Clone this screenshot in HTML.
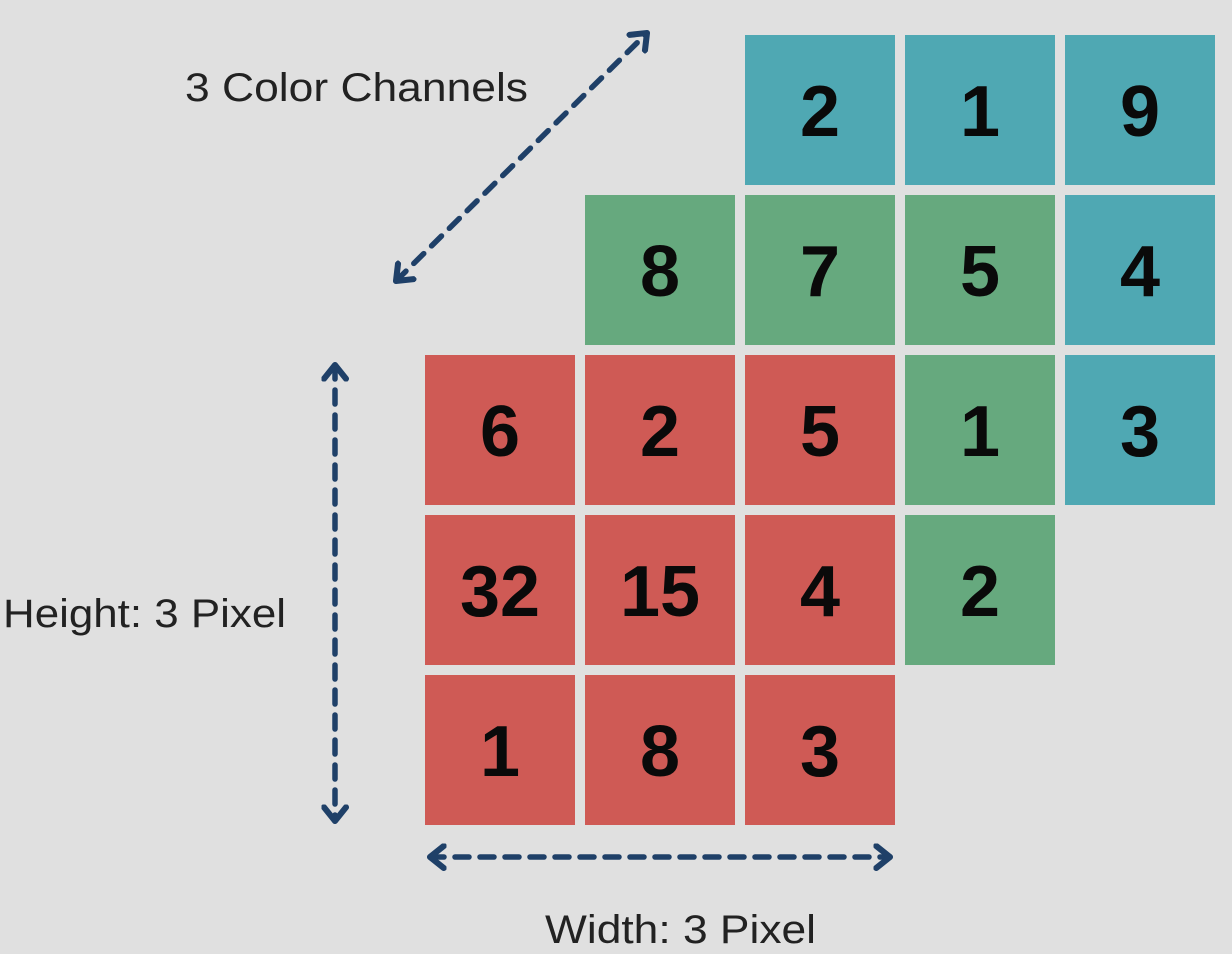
<!DOCTYPE html>
<html><head><meta charset="utf-8"><style>
html,body{margin:0;padding:0;background:#e0e0e0;}
svg{display:block}
</style></head><body>
<svg id="chart" width="1232" height="954" viewBox="0 0 1232 954" xmlns="http://www.w3.org/2000/svg">
<defs>
<marker id="ah" viewBox="0 0 10 10" refX="6" refY="5" markerWidth="5" markerHeight="5" orient="auto-start-reverse">
<path d="M1,1 L6,5 L1,9" fill="none" stroke="#1f4068" stroke-width="2.2" stroke-linecap="round" stroke-linejoin="round"/>
</marker>
</defs>
<rect x="0" y="0" width="1232" height="954" fill="#e0e0e0"/>
<g id="cells"></g>
<line x1="396" y1="281" x2="647" y2="33" stroke="#1f4068" stroke-width="5.5" stroke-dasharray="14 11" stroke-linecap="round" marker-start="url(#ah)" marker-end="url(#ah)"/>
<line x1="335" y1="365" x2="335" y2="821" stroke="#1f4068" stroke-width="5.5" stroke-dasharray="14 11" stroke-linecap="round" marker-start="url(#ah)" marker-end="url(#ah)"/>
<line x1="430" y1="857" x2="890" y2="857" stroke="#1f4068" stroke-width="5.5" stroke-dasharray="14 11" stroke-linecap="round" marker-start="url(#ah)" marker-end="url(#ah)"/>
<text x="185" y="101" font-family="Liberation Sans, sans-serif" font-size="40" fill="#222" textLength="343" lengthAdjust="spacingAndGlyphs">3 Color Channels</text>
<text x="3" y="627" font-family="Liberation Sans, sans-serif" font-size="40" fill="#222" textLength="283" lengthAdjust="spacingAndGlyphs">Height: 3 Pixel</text>
<text x="545" y="943" font-family="Liberation Sans, sans-serif" font-size="40" fill="#222" textLength="271" lengthAdjust="spacingAndGlyphs">Width: 3 Pixel</text>
</svg>
<script>
const blueValues = [[2,1,9],[7,5,4],[5,1,3]];
const greenValues = [[8,7,5],[2,5,1],[15,4,2]];
const redValues = [[6,2,5],[32,15,4],[1,8,3]];
const channels = [
  {name:'blue', vals: blueValues, color:'#4fa8b3', off:2},
  {name:'green', vals: greenValues, color:'#66a97e', off:1},
  {name:'red', vals: redValues, color:'#cf5a55', off:0}
];
const g = document.getElementById('cells');
const NS = 'http://www.w3.org/2000/svg';
const x0 = 425, y0 = 355, step = 160, size = 150;
channels.forEach(ch => {
  ch.vals.forEach((row, r) => {
    row.forEach((v, c) => {
      const x = x0 + (c + ch.off) * step;
      const y = y0 + (r - ch.off) * step;
      const rect = document.createElementNS(NS, 'rect');
      
      
      rect.setAttribute('x', x); rect.setAttribute('y', y);
      rect.setAttribute('width', size); rect.setAttribute('height', size);
      rect.setAttribute('fill', ch.color);
      g.appendChild(rect);
      const t = document.createElementNS(NS, 'text');
      
      
      t.setAttribute('x', x + size / 2); t.setAttribute('y', y + size / 2 + 26);
      t.setAttribute('text-anchor', 'middle');
      t.setAttribute('font-family', 'Liberation Sans, sans-serif');
      t.setAttribute('font-weight', 'bold');
      t.setAttribute('font-size', '72');
      t.setAttribute('fill', '#0a0a0a');
      t.textContent = v;
      g.appendChild(t);
    });
  });
});
</script>
</body></html>
